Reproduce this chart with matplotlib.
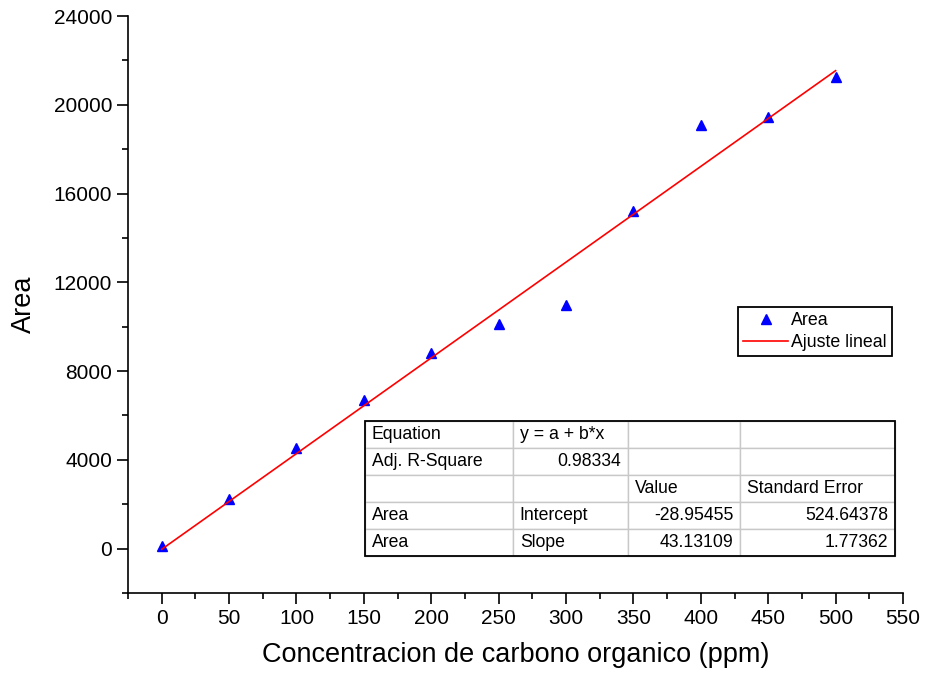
import matplotlib.pyplot as plt
import numpy as np

plt.rcParams['font.family'] = ['Liberation Sans', 'DejaVu Sans']

# Measured data (concentration in ppm vs peak area)
conc = [0, 50, 100, 150, 200, 250, 300, 350, 400, 450, 500]
area = [100, 2250, 4520, 6700, 8800, 10100, 11000, 15200, 19100, 19450, 21250]

# Linear fit reported in the table
intercept = -28.95455
slope = 43.13109

table_rows = [
    ['Equation', 'y = a + b*x', '', ''],
    ['Adj. R-Square', '0.98334', '', ''],
    ['', '', 'Value', 'Standard Error'],
    ['Area', 'Intercept', '-28.95455', '524.64378'],
    ['Area', 'Slope', '43.13109', '1.77362'],
]
right_cells = [(1, 1), (3, 2), (3, 3), (4, 2), (4, 3)]

fig = plt.figure(figsize=(9.25, 6.84), dpi=100)
ax = fig.add_axes([0.1384, 0.1330, 0.8378, 0.8436])

ax.plot(conc, area, linestyle='none', marker='^', color='blue', markersize=6.5, label='Area')
fit_x = np.array([conc[0], conc[-1]])
ax.plot(fit_x, intercept + slope * fit_x, color='red', linewidth=1.2, label='Ajuste lineal')

ax.set_xlim(-25, 550)
ax.set_ylim(-2000, 24000)
ax.set_xticks(range(0, 551, 50))
ax.set_xticks(range(-25, 551, 25), minor=True)
ax.set_yticks(range(0, 24001, 4000))
ax.set_yticks(range(-2000, 24001, 2000), minor=True)

for side in ['top', 'right']:
    ax.spines[side].set_visible(False)
for side in ['left', 'bottom']:
    ax.spines[side].set_linewidth(1.2)
ax.tick_params(which='major', direction='out', length=8, width=1.2, labelsize=15)
ax.tick_params(which='minor', direction='out', length=4, width=1.2)

ax.set_xlabel('Concentracion de carbono organico (ppm)', fontsize=19.5, labelpad=10)
ax.set_ylabel('Area', fontsize=19.5, labelpad=12)

leg = ax.legend(loc='upper left', bbox_to_anchor=(0.7978, 0.5512),
                bbox_transform=fig.transFigure, fontsize=12.8, fancybox=False,
                framealpha=1, edgecolor='black', handlelength=2.5,
                borderpad=0.3, labelspacing=0.25, handletextpad=0.2, borderaxespad=0)
leg.get_frame().set_linewidth(1.3)

col_px = [148, 115, 113, 155]
tbl = ax.table(cellText=table_rows, cellLoc='left',
               colWidths=[w / sum(col_px) for w in col_px],
               bbox=[0.3058, 0.0640, 0.6839, 0.2341])
tbl.auto_set_font_size(False)
tbl.set_fontsize(12.7)
for (r, c), cell in tbl.get_celld().items():
    cell.set_edgecolor('#c8c8c8')
    cell.set_linewidth(1.0)
    cell.PAD = 7.0 / col_px[c]
    if (r, c) in right_cells:
        cell.get_text().set_ha('right')
# black outer border
ax.add_patch(plt.Rectangle((0.3058, 0.0640), 0.6839, 0.2341, transform=ax.transAxes,
                           fill=False, edgecolor='black', linewidth=1.3, zorder=5))

fig.savefig('out.png', dpi=100)
